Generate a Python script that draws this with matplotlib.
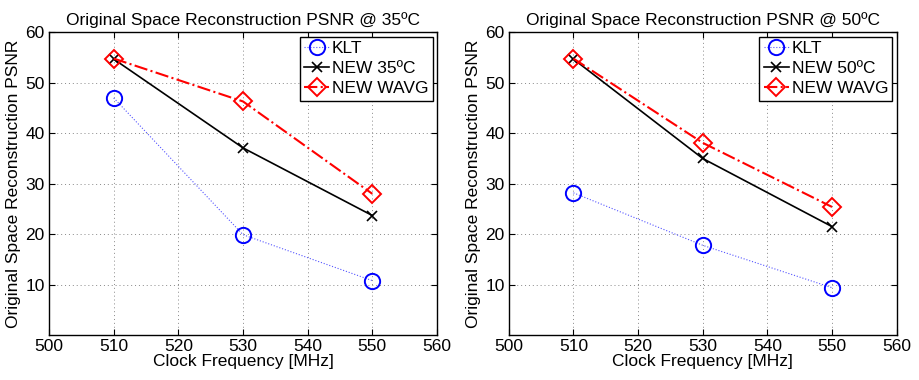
import numpy as np
import matplotlib.pyplot as plt

plt.rcParams['font.family'] = ['Liberation Sans', 'DejaVu Sans']

# Datos
freq = [510, 530, 550]
klt_35 = [47.0, 19.9, 10.8]
new_35 = [54.7, 37.1, 23.7]
wavg_35 = [54.8, 46.3, 28.0]
klt_50 = [28.2, 17.8, 9.4]
new_50 = [54.7, 35.0, 21.5]
wavg_50 = [54.8, 38.1, 25.4]

temps = ['35', '50']
klt_sets = [klt_35, klt_50]
new_sets = [new_35, new_50]
wavg_sets = [wavg_35, wavg_50]

fig = plt.figure(figsize=(9.2, 3.8), dpi=100)
lefts = [0.0533, 0.553]

for i in range(2):
    ax = fig.add_axes([lefts[i], 0.118, 0.4217, 0.797])
    ax.plot(freq, klt_sets[i], ':', color='#5555ff', lw=0.8, marker='o', ms=11,
            mfc='none', mec='blue', mew=1.4, label='KLT')
    ax.plot(freq, new_sets[i], '-', color='black', lw=1.2, marker='x', ms=7,
            mew=1.2, label='NEW %sºC' % temps[i])
    ax.plot(freq, wavg_sets[i], '-.', color='red', lw=1.5, marker='D', ms=9,
            mfc='none', mec='red', mew=1.4, label='NEW WAVG')
    ax.set_xlim(500, 560)
    ax.set_ylim(0, 60)
    ax.set_xticks(np.arange(500, 561, 10))
    ax.set_yticks(np.arange(10, 61, 10))
    ax.tick_params(direction='in', top=True, right=True, labelsize=12.5,
                   length=4, pad=3)
    for s in ax.spines.values():
        s.set_linewidth(1.0)
    ax.grid(True, linestyle=(0, (1, 3)), color='#888888', lw=0.7)
    ax.set_xlabel('Clock Frequency [MHz]', fontsize=12.5, labelpad=0)
    ax.set_ylabel('Original Space Reconstruction PSNR', fontsize=12.5, labelpad=3)
    ax.set_title('Original Space Reconstruction PSNR @ %sºC' % temps[i],
                 fontsize=12.5, pad=5)
    leg = ax.legend(loc='upper right', fontsize=12.5, fancybox=False, framealpha=1,
                    edgecolor='black', borderpad=0.25, labelspacing=0.28,
                    handlelength=1.45, handletextpad=0.15, borderaxespad=0.25)
    leg.get_frame().set_linewidth(1.0)

plt.savefig('out.png', dpi=100)
